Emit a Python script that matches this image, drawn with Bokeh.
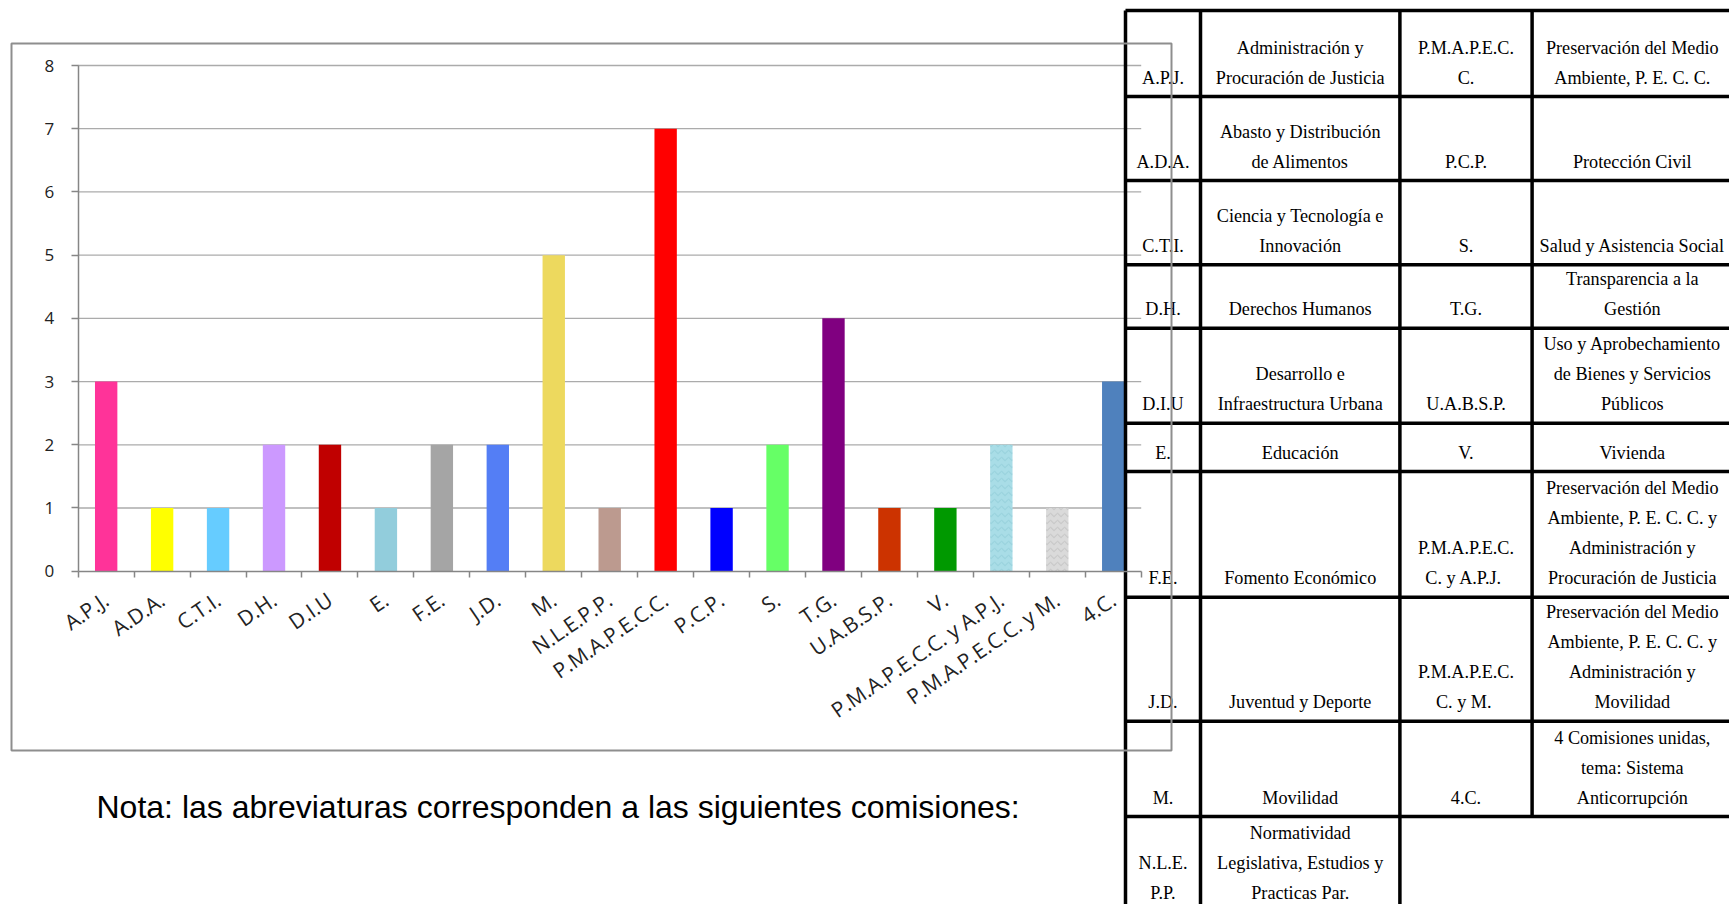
import math
from bokeh.plotting import figure
from bokeh.models import Range1d, LinearAxis, FixedTicker, ColumnDataSource
from bokeh.core.properties import value
from bokeh.embed import file_html
from bokeh.resources import INLINE

# ---------------- data ----------------
categories = ["A.P.J.", "A.D.A.", "C.T.I.", "D.H.", "D.I.U", "E.", "F.E.", "J.D.", "M.",
              "N.L.E.P.P.", "P.M.A.P.E.C.C.", "P.C.P.", "S.", "T.G.", "U.A.B.S.P.", "V.",
              "P.M.A.P.E.C.C. y A.P.J.", "P.M.A.P.E.C.C. y M.", "4.C."]
counts = [3, 1, 1, 2, 2, 1, 2, 2, 5, 1, 7, 1, 2, 4, 1, 1, 2, 1, 3]
bar_colors = ["#FF3399", "#FFFF00", "#66CCFF", "#CC99FF", "#C00000", "#92CDDC", "#A5A5A5",
              "#547EF5", "#EDD95E", "#BC9A8F", "#FF0000", "#0000FF", "#66FF66", "#800080",
              "#CC3300", "#009900", "#A9DDE7", "#DADADA", "#4F81BD"]
bar_textures = [" "] * 16 + ["v", "v", " "]
texture_colors = ["#ffffff"] * 16 + ["#7FBFCC", "#A8A8A8", "#ffffff"]
y_ticks = [0, 1, 2, 3, 4, 5, 6, 7, 8]

note_text = "Nota: las abreviaturas corresponden a las siguientes comisiones:"

table_col1 = [["A.P.J."], ["A.D.A."], ["C.T.I."], ["D.H."], ["D.I.U"], ["E."], ["F.E."],
              ["J.D."], ["M."], ["N.L.E.", "P.P."]]
table_col2 = [["Administración y", "Procuración de Justicia"],
              ["Abasto y Distribución", "de Alimentos"],
              ["Ciencia y Tecnología e", "Innovación"],
              ["Derechos Humanos"],
              ["Desarrollo e", "Infraestructura Urbana"],
              ["Educación"],
              ["Fomento Económico"],
              ["Juventud y Deporte"],
              ["Movilidad"],
              ["Normatividad", "Legislativa, Estudios y", "Practicas Par."]]
table_col3 = [["P.M.A.P.E.C.", "C."], ["P.C.P."], ["S."], ["T.G."], ["U.A.B.S.P."], ["V."],
              ["P.M.A.P.E.C.", "C. y  A.P.J."], ["P.M.A.P.E.C.", "C. y  M."], ["4.C."], []]
table_col4 = [["Preservación del Medio", "Ambiente, P. E. C. C."],
              ["Protección Civil"],
              ["Salud y Asistencia Social"],
              ["Transparencia a la", "Gestión"],
              ["Uso y Aprobechamiento", "de Bienes y Servicios", "Públicos"],
              ["Vivienda"],
              ["Preservación del Medio", "Ambiente, P. E. C. C. y", "Administración y",
               "Procuración de Justicia"],
              ["Preservación del Medio", "Ambiente, P. E. C. C. y", "Administración y",
               "Movilidad"],
              ["4 Comisiones unidas,", "tema: Sistema", "Anticorrupción"],
              []]

# ---------------- layout (page pixels) ----------------
W, H = 1729, 904
AX_L, AX_R = 77.7, 1140.7       # category axis extent
Y0, YTOP = 570.7, 65.0          # pixel of value 0 and value 8
n = len(categories)
YMAX = y_ticks[-1]
ppu_x = (AX_R - AX_L) / n
x_start = -0.5 - AX_L / ppu_x
x_end = x_start + W / ppu_x
ppu_y = (Y0 - YTOP) / YMAX
y_end = YMAX + YTOP / ppu_y
y_start = y_end - H / ppu_y

p = figure(width=W, height=H, min_border=0, x_axis_location=None, y_axis_location=None,
           toolbar_location=None, output_backend="svg",
           x_range=Range1d(x_start, x_end), y_range=Range1d(y_start, y_end))
p.outline_line_color = None
p.xgrid.visible = False
p.ygrid.visible = False
p.extra_x_ranges = {"px": Range1d(0, W)}
p.extra_y_ranges = {"py": Range1d(H, 0)}

AXIS_COLOR = "#868686"
GRID_COLOR = "#ababab"

# gridlines at y ticks
gy = [t for t in y_ticks if t > 0]
p.segment(x0=[-0.5] * len(gy), x1=[n - 0.5] * len(gy), y0=gy, y1=gy,
          line_color=GRID_COLOR, line_width=1.3)

# bars
src = ColumnDataSource(dict(x=list(range(n)), top=counts, color=bar_colors,
                            hatch=bar_textures, hcolor=texture_colors))
p.vbar(x="x", top="top", bottom=0, width=0.4, source=src, fill_color="color", line_color=None,
       hatch_pattern="hatch", hatch_color="hcolor", hatch_alpha=0.35, hatch_scale=7,
       hatch_weight=1.2)

# axes
yax = LinearAxis(ticker=FixedTicker(ticks=y_ticks), fixed_location=-0.5, bounds=(0, YMAX),
                 axis_line_color=AXIS_COLOR, axis_line_width=1.5,
                 major_tick_out=7, major_tick_in=0, major_tick_line_color=AXIS_COLOR,
                 major_tick_line_width=1.5, minor_tick_out=0, minor_tick_in=0,
                 major_label_text_font="Open Sans", major_label_text_font_size="17px",
                 major_label_text_color="#222222", major_label_standoff=17)
p.add_layout(yax, "left")

xax = LinearAxis(ticker=FixedTicker(ticks=list(range(n)),
                                    minor_ticks=[i - 0.5 for i in range(n + 1)]),
                 fixed_location=0, bounds=(-0.5, n - 0.5),
                 major_label_overrides={i: c for i, c in enumerate(categories)},
                 major_label_orientation=0.6,
                 axis_line_color=AXIS_COLOR, axis_line_width=1.5,
                 major_tick_out=0, major_tick_in=0,
                 minor_tick_out=6, minor_tick_in=0, minor_tick_line_color=AXIS_COLOR,
                 minor_tick_line_width=1.5,
                 major_label_text_font="Open Sans", major_label_text_font_size="21px",
                 major_label_text_color="#222222", major_label_standoff=20)
p.add_layout(xax, "below")

# ---------------- table ----------------
col_x = [1125, 1200, 1399.4, 1531.6, 1738]
row_y = [10, 96, 180, 264.3, 327.7, 422.7, 471, 596.7, 720.7, 816, 911]
LINE_H = 30.0
TABLE_FS = 18.2
PAD_B = 12.7 + 0.33 * TABLE_FS

hx0, hx1, hy = [], [], []
for r in row_y[:-1]:
    hx0.append(col_x[0]); hx1.append(col_x[-1]); hy.append(r)
p.segment(x0=hx0, x1=hx1, y0=hy, y1=hy, line_color="black", line_width=3.5,
          x_range_name="px", y_range_name="py")
vx, vy0, vy1 = [], [], []
for i, c in enumerate(col_x):
    vx.append(c); vy0.append(row_y[0])
    vy1.append(row_y[-1] if i <= 2 else row_y[-2])
p.segment(x0=vx, x1=vx, y0=vy0, y1=vy1, line_color="black", line_width=3.5,
          x_range_name="px", y_range_name="py")

tx, ty, tt = [], [], []
for ci, col in enumerate([table_col1, table_col2, table_col3, table_col4]):
    cx = (col_x[ci] + col_x[ci + 1]) / 2
    if ci == 3:
        cx -= 3
    for ri, lines in enumerate(col):
        bottom = row_y[ri + 1]
        k = len(lines)
        for j, line in enumerate(lines):
            tx.append(cx)
            ty.append(bottom - PAD_B - (k - 1 - j) * LINE_H)
            tt.append(line)
p.text(x=tx, y=ty, text=tt, text_align="center", text_baseline="alphabetic",
       text_font=value("Liberation Serif"), text_font_size=f"{TABLE_FS}px", text_color="black",
       x_range_name="px", y_range_name="py")

# chart area border (drawn over the table, as in the original)
p.quad(left=[11], right=[1171], top=[43], bottom=[750],
       fill_color=None, line_color="#8e8e8e", line_width=2,
       x_range_name="px", y_range_name="py")

# note
NOTE_FS = 32
p.text(x=[96], y=[816.7 - 0.33 * NOTE_FS], text=[note_text], text_align="left",
       text_baseline="alphabetic", text_font=value("Liberation Sans"),
       text_font_size=f"{NOTE_FS}px", text_color="black", x_range_name="px", y_range_name="py")

open("out.html", "w").write(file_html(p, INLINE))
